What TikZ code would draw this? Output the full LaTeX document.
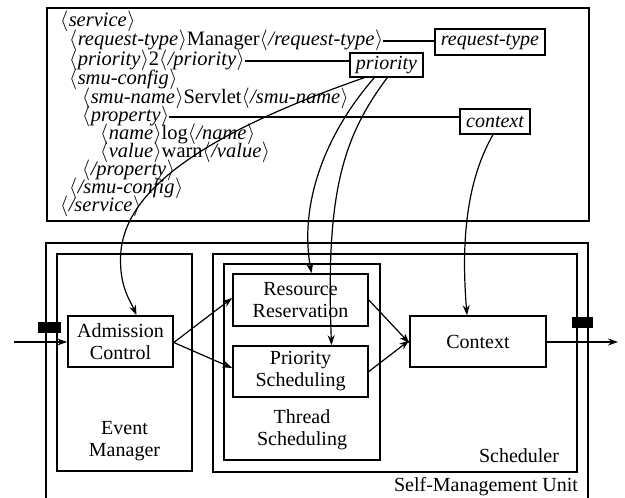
\documentclass[tikz,border=0pt]{standalone}
\usepackage{fontspec}
\setmainfont{Liberation Serif}
\usetikzlibrary{arrows.meta}
\newcommand{\opentag}[1]{$\langle$\kern0.5pt\textit{#1}\kern0.5pt$\rangle$}
\newcommand{\closetag}[1]{$\langle$\kern0.5pt\textit{/#1}\kern0.5pt$\rangle$}
\begin{document}
\begin{tikzpicture}[x=1pt,y=-1pt,
  box/.style={draw, line width=1.6pt, inner sep=0pt},
  lab/.style={font=\fontsize{20}{22}\selectfont, align=center, inner sep=0pt},
  code/.style={anchor=base west, inner sep=0pt, font=\fontsize{20.5}{20}\selectfont,
               text height=11pt, text depth=2pt},
  tagbox/.style={draw, line width=1.3pt, inner sep=0pt,
               font=\fontsize{20}{20}\selectfont\itshape},
  conn/.style={line width=1.2pt},
  arr/.style={conn, -{Stealth[length=10pt,width=7pt]}},
  port/.style={fill=black, inner sep=0pt}]
\useasboundingbox (0,0) rectangle (625,498);
\clip (0,0) rectangle (625,498);

% service descriptor
\node[box, minimum width=542pt, minimum height=213pt] (xml) at (318,114.5) {};
\node[code] (l1)  at (60,26.5)  {\opentag{service}};
\node[code] (l2)  at (69,45.5)  {\opentag{request-type}Manager\closetag{request-type}};
\node[code] (l3)  at (69,65.5)  {\opentag{priority}2\closetag{priority}};
\node[code] (l4)  at (69,84.5)  {\opentag{smu-config}};
\node[code] (l5)  at (82,103.5) {\opentag{smu-name}Servlet\closetag{smu-name}};
\node[code] (l6)  at (82,121.5) {\opentag{property}};
\node[code] (l7)  at (100,139.5) {\opentag{name}log\closetag{name}};
\node[code] (l8)  at (100,157.5) {\opentag{value}warn\closetag{value}};
\node[code] (l9)  at (82,175.5) {\closetag{property}};
\node[code] (l10) at (69,193.5) {\closetag{smu-config}};
\node[code] (l11) at (60,211.5) {\closetag{service}};

\node[tagbox, minimum width=110pt, minimum height=26pt] (rtlab)  at (490,42)    {request-type};
\node[tagbox, minimum width=73pt,  minimum height=24pt] (plab)   at (386.5,65)  {priority};
\node[tagbox, minimum width=70pt,  minimum height=25pt] (ctxlab) at (495,121.5) {context};

\draw[conn] (l2.east) -- (l2.east -| rtlab.west);
\draw[conn] (l3.east) -- (l3.east -| plab.west);
\draw[conn] (l6.east) -- (l6.east -| ctxlab.west);

% self-management unit
\node[box, minimum width=542pt, minimum height=280pt] (smu) at (317,383) {};
\node[box, minimum width=135pt, minimum height=217pt] (evm) at (124.5,362.5) {};
\node[box, minimum width=364pt, minimum height=218pt] (sched) at (395,363) {};
\node[box, minimum width=156pt, minimum height=196pt] (thr) at (302,362) {};

\node[box, lab, minimum width=105pt, minimum height=51pt] (adm)  at (120.5,341.5) {Admission\\Control};
\node[box, lab, minimum width=135pt, minimum height=52pt] (resv) at (300.5,300)   {Resource\\Reservation};
\node[box, lab, minimum width=135pt, minimum height=51pt] (prio) at (300.5,371.5) {Priority\\Scheduling};
\node[box, lab, minimum width=136pt, minimum height=51pt] (ctx)  at (478,341.5)   {Context};

\node[lab] (evmlab) at (124.5,441)  {Event\\Manager};
\node[lab] (thrlab) at (302,429.5)  {Thread\\Scheduling};
\node[lab] (schlab) at (519,456)    {Scheduler};
\node[lab] (smulab) at (486,487)    {Self-Management Unit};

% ports
\node[port, minimum width=23pt, minimum height=11pt] (pin)  at (49.5,327.5) {};
\node[port, minimum width=21pt, minimum height=11pt] (pout) at (582.5,322.5) {};

\coordinate (src) at (14,342);
\coordinate (snk) at (618,342);
\draw[arr] (src) -- (src -| adm.west);
\draw[arr] (ctx.east |- snk) -- (snk);

\draw[arr] ([yshift=-1pt]adm.east) -- ([yshift=2pt]resv.west);
\draw[arr] ([yshift=-1pt]adm.east) -- ([yshift=3.5pt]prio.west);
\draw[arr] (resv.east) -- ([yshift=-1.5pt]ctx.west);
\draw[arr] (prio.east) -- ([yshift=1pt]ctx.west);

% descriptor fields feeding the unit
\draw[arr] ([xshift=15pt]plab.south west) .. controls (200,135) and (128,190) .. (121,250)
           .. controls (118,285) and (130,300) .. ([xshift=16pt]adm.north);
\draw[arr] ([xshift=25pt]plab.south west) .. controls (320,140) and (300,210) .. ([xshift=11pt]resv.north);
\draw[arr] ([xshift=38pt]plab.south west) .. controls (340,140) and (326,200) .. ([xshift=31pt]prio.north);
\draw[arr] ([xshift=-2pt]ctxlab.south) .. controls (470,175) and (460,230) .. ([xshift=-11pt]ctx.north);
\end{tikzpicture}
\end{document}
